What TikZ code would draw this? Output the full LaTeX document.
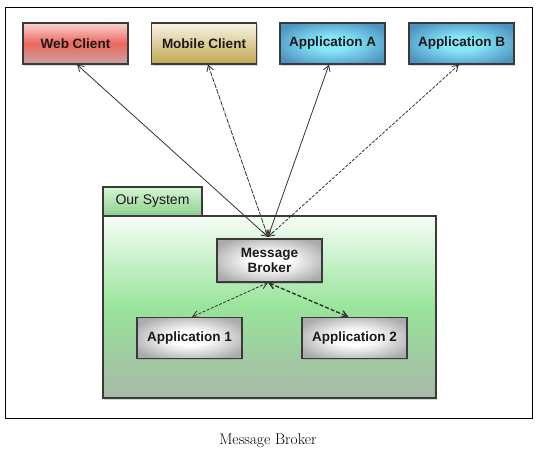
\documentclass[tikz,border=0pt]{standalone}
\usepackage{fontspec}
\newfontfamily\sansf{Liberation Sans}
\usetikzlibrary{arrows.meta,shadows}
\definecolor{boxline}{HTML}{3A3A3A}
\definecolor{linec}{HTML}{333333}
\definecolor{textc}{HTML}{1A1A1A}
\definecolor{redT}{HTML}{F9D3D3}
\definecolor{redM}{HTML}{EC675C}
\definecolor{redB}{HTML}{C8A4A4}
\definecolor{olT}{HTML}{F8F5E6}
\definecolor{olB}{HTML}{BFA54E}
\definecolor{blIn}{HTML}{84E6F7}
\definecolor{blOut}{HTML}{4E93C2}
\definecolor{grIn}{HTML}{FFFFFF}
\definecolor{grOut}{HTML}{ABABAB}
\definecolor{gsT}{HTML}{F6FCF6}
\definecolor{gsM}{HTML}{98E49A}
\definecolor{gsB}{HTML}{A8B8A8}
\definecolor{tabT}{HTML}{D5F5D5}
\definecolor{tabB}{HTML}{8CD08C}
\pgfdeclareradialshading{blueglow}{\pgfpoint{0bp}{0bp}}{color(0bp)=(blIn); color(9bp)=(blIn); color(30bp)=(blOut); color(50bp)=(blOut)}
\pgfdeclareradialshading{grayglow}{\pgfpoint{0bp}{0bp}}{color(0bp)=(grIn); color(9bp)=(grIn); color(30bp)=(grOut); color(50bp)=(grOut)}
\tikzset{
  box/.style={draw=boxline, line width=1.2pt, minimum width=105pt, minimum height=41pt,
    inner sep=0pt, align=center, text=textc,
    font=\sansf\bfseries\fontsize{13.5}{15}\selectfont,
    drop shadow={shadow xshift=1pt, shadow yshift=-1.5pt, opacity=0.3}},
  redbox/.style={box, top color=redT, bottom color=redB, middle color=redM},
  olivebox/.style={box, top color=olT, bottom color=olB},
  bluebox/.style={box, shading=blueglow},
  graybox/.style={box, shading=grayglow},
  systab/.style={draw=boxline, line width=1.2pt, minimum width=99pt, minimum height=29pt,
    inner sep=0pt, text=textc, font=\sansf\fontsize{14}{16}\selectfont,
    top color=tabT, bottom color=tabB,
    drop shadow={shadow xshift=1pt, shadow yshift=-1.5pt, opacity=0.3}},
  sysbox/.style={draw=boxline, line width=1.2pt, minimum width=333pt, minimum height=182pt,
    inner sep=0pt, top color=gsT, bottom color=gsB, middle color=gsM,
    drop shadow={shadow xshift=1pt, shadow yshift=-1.5pt, opacity=0.3}},
  conn/.style={draw=linec, line width=0.8pt,
    {Straight Barb[length=6pt,width=7pt]}-{Straight Barb[length=6pt,width=7pt]}},
  fine/.style={dash pattern=on 5pt off 1.2pt},
  dsh/.style={dash pattern=on 3pt off 1.5pt},
  thick dash/.style={line width=1.4pt, dash pattern=on 4pt off 2pt}
}
\begin{document}
\begin{tikzpicture}[x=1pt,y=-1pt]
\useasboundingbox (0,0) rectangle (546,456);
\fill[white] (0,0) rectangle (546,456);
\draw[line width=1pt, black] (5,7) rectangle (532,418);

\node[redbox]   (wc) at (75.5,43.5)  {Web Client};
\node[olivebox] (mc) at (204,43.5)   {Mobile Client};
\node[bluebox]  (aa) at (332.5,43.5) {Application A};
\node[bluebox]  (ab) at (461.5,43.5) {Application B};

\node[systab] (tab) at (152.5,201.5) {Our System};
\node[sysbox] (sys) at (269.5,307) {};

\node[graybox, minimum height=43pt] (bk) at (269.5,260.5) {Message\\Broker};
\node[graybox] (a1) at (189.5,338) {Application 1};
\node[graybox] (a2) at (354.5,338) {Application 2};

\coordinate (bkN) at ([xshift=-1.5pt,yshift=1.5pt]bk.north);
\coordinate (bkS) at ([xshift=-1.5pt]bk.south);
\coordinate (wcS) at ([xshift=1.5pt]wc.south);
\coordinate (mcS) at ([xshift=4pt]mc.south);
\coordinate (aaS) at ([xshift=-3.5pt]aa.south);
\coordinate (abS) at ([xshift=-2.5pt]ab.south);
\coordinate (a1N) at ([xshift=2.5pt]a1.north);
\coordinate (a2N) at ([xshift=-6pt]a2.north);

\draw[conn] (wcS) -- (bkN);
\draw[conn, fine] (mcS) -- (bkN);
\draw[conn] (aaS) -- (bkN);
\draw[conn, dsh] (abS) -- (bkN);
\draw[conn, dsh] (bkS) -- (a1N);
\draw[conn, thick dash] (bkS) -- (a2N);

\node[font=\fontsize{15.5}{18}\selectfont] (cap) at (268,441) {Message Broker};
\end{tikzpicture}
\end{document}
